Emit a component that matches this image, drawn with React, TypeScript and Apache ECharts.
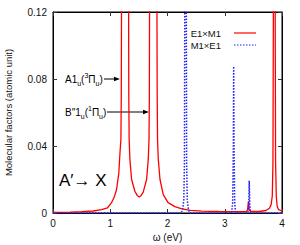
import React, { useEffect, useRef } from 'react';
import * as echarts from 'echarts';

const FONT = '"Liberation Sans", Arial, Helvetica, sans-serif';

// Axis ranges / ticks
const X_MIN = 0;
const X_MAX = 4;
const X_STEP = 1;
const Y_MIN = 0;
const Y_MAX = 0.12;
const Y_STEP = 0.04;

const SERIES_NAMES = ['E1×M1', 'M1×E1'];

// E1×M1 (red, solid): [omega (eV), molecular factor]
const E1M1: [number, number][] = [
  [0, 0.0003], [0.3, 0.0005], [0.5, 0.0008], [0.7, 0.0012], [0.85, 0.002],
  [0.95, 0.003], [1.02, 0.006], [1.07, 0.0095], [1.11, 0.014], [1.15, 0.024],
  [1.17, 0.036], [1.186, 0.044], [1.193, 0.07], [1.197, 0.13], [1.256, 0.9],
  [1.32, 0.13], [1.324, 0.07], [1.33, 0.044], [1.343, 0.032], [1.373, 0.02],
  [1.43, 0.013], [1.47, 0.0105], [1.506, 0.0095], [1.54, 0.0105], [1.576, 0.0125],
  [1.635, 0.02], [1.664, 0.032], [1.677, 0.044], [1.683, 0.07], [1.687, 0.13],
  [1.75, 0.9], [1.815, 0.13], [1.82, 0.07], [1.826, 0.044], [1.839, 0.032],
  [1.869, 0.02], [1.926, 0.011], [2.01, 0.0062], [2.13, 0.0038], [2.25, 0.0025],
  [2.4, 0.0016], [2.6, 0.0011], [2.9, 0.0009], [3.2, 0.0008], [3.38, 0.0009],
  [3.4, 0.002], [3.413, 0.007], [3.426, 0.002], [3.45, 0.0009], [3.6, 0.0009],
  [3.72, 0.0015], [3.78, 0.0028], [3.81, 0.005], [3.83, 0.01], [3.842, 0.03],
  [3.85, 0.13], [3.865, 0.9], [3.88, 0.13], [3.888, 0.03], [3.9, 0.01],
  [3.915, 0.004], [3.94, 0.002], [4.0, 0.0012],
];

// M1×E1 (blue, dotted)
const M1E1: [number, number][] = [
  [0, 0], [2.24, 0], [2.265, 0.002], [2.285, 0.008], [2.296, 0.03],
  [2.302, 0.13], [2.315, 0.9], [2.328, 0.13], [2.334, 0.03], [2.345, 0.008],
  [2.365, 0.002], [2.39, 0], [3.12, 0], [3.138, 0.006], [3.15, 0.04],
  [3.156, 0.0875], [3.162, 0.04], [3.174, 0.006], [3.19, 0], [3.405, 0],
  [3.418, 0.005], [3.428, 0.0192], [3.438, 0.005], [3.45, 0], [4, 0],
];

const RED = '#ff0000';
const BLUE = '#2222ff';

export default function App() {
  const ref = useRef<HTMLDivElement>(null);

  useEffect(() => {
    if (!ref.current) return;
    const chart = echarts.init(ref.current, undefined, { renderer: 'svg', width: 300, height: 245 });

    const tickStyle = { inside: true, length: 4, lineStyle: { color: '#333', width: 1 } };
    const axisLine = { show: true, onZero: false, lineStyle: { color: '#000', width: 1 } };
    const labelStyle = { fontSize: 10, color: '#111', fontFamily: FONT };
    const rich = {
      n: { fontSize: 10, lineHeight: 15, fontFamily: FONT, fill: '#000', color: '#000' },
      sub: { fontSize: 7, verticalAlign: 'bottom', fontFamily: FONT, fill: '#000', color: '#000' },
      sup: { fontSize: 7, verticalAlign: 'top', fontFamily: FONT, fill: '#000', color: '#000' },
    };

    const option: any = {
      animation: false,
      textStyle: { fontFamily: FONT },
      grid: {
        left: 53, right: 18, top: 12, height: 201,
        containLabel: false,
        outerBoundsMode: 'none',
        show: true, borderColor: '#000', borderWidth: 1, backgroundColor: 'transparent',
      },
      legend: {
        orient: 'vertical',
        right: 43,
        top: 28,
        padding: 0,
        align: 'right',
        itemWidth: 22,
        itemHeight: 8,
        itemGap: 2,
        textStyle: { fontSize: 9.5, color: '#111', fontFamily: FONT, lineHeight: 8, padding: [0, 8, 0, 0] },
        data: [
          {
            name: SERIES_NAMES[0],
            lineStyle: { width: 2, color: RED, opacity: 0.6 },
            itemStyle: { opacity: 0, borderWidth: 0 },
          },
          {
            name: SERIES_NAMES[1],
            lineStyle: { width: 1.2 },
            itemStyle: { opacity: 0, borderWidth: 0 },
          },
        ],
      },
      xAxis: [
        {
          type: 'value', min: X_MIN, max: X_MAX, interval: X_STEP, position: 'bottom',
          name: 'ω (eV)', nameLocation: 'middle', nameGap: 19,
          nameTextStyle: { fontSize: 10, color: '#111', fontFamily: FONT },
          axisLine, axisTick: tickStyle,
          axisLabel: { ...labelStyle, margin: 5 },
          splitLine: { show: false },
        },
        {
          type: 'value', min: X_MIN, max: X_MAX, interval: X_STEP, position: 'top',
          axisLine, axisTick: tickStyle, axisLabel: { show: false }, splitLine: { show: false },
        },
      ],
      yAxis: [
        {
          type: 'value', min: Y_MIN, max: Y_MAX, interval: Y_STEP, position: 'left',
          name: 'Molecular factors (atomic unit)', nameLocation: 'middle', nameGap: 40,
          nameTextStyle: { fontSize: 9.5, color: '#111', fontFamily: FONT },
          axisLine, axisTick: tickStyle,
          axisLabel: { ...labelStyle, margin: 6 },
          splitLine: { show: false },
        },
        {
          type: 'value', min: Y_MIN, max: Y_MAX, interval: Y_STEP, position: 'right',
          axisLine, axisTick: tickStyle, axisLabel: { show: false }, splitLine: { show: false },
        },
      ],
      series: [
        {
          name: SERIES_NAMES[0], type: 'line', data: E1M1, xAxisIndex: 0, yAxisIndex: 0,
          symbol: 'none', clip: true, smooth: false,
          lineStyle: { color: RED, width: 1.3 }, itemStyle: { color: RED },
        },
        {
          name: SERIES_NAMES[1], type: 'line', data: M1E1, xAxisIndex: 0, yAxisIndex: 0,
          symbol: 'none', clip: true, smooth: false,
          lineStyle: { color: BLUE, width: 1.5, type: [1.5, 1.5] }, itemStyle: { color: BLUE },
        },
      ],
      graphic: [
        {
          type: 'text', left: 59, top: 172,
          style: { text: 'A′→ X', fontSize: 17, fill: '#000', fontFamily: FONT },
        },
        {
          type: 'text', x: 65, y: 79,
          style: {
            text: '{n|A1}{sub|u}{n|(}{sup|3}{n|Π}{sub|u}{n|)}',
            x: 0, y: 0, verticalAlign: 'middle', textVerticalAlign: 'middle',
            fill: '#000', fontFamily: FONT, rich,
          },
        },
        {
          type: 'text', x: 65, y: 112,
          style: {
            text: '{n|B″1}{sub|u}{n|(}{sup|1}{n|Π}{sub|u}{n|)}',
            x: 0, y: 0, verticalAlign: 'middle', textVerticalAlign: 'middle',
            fill: '#000', fontFamily: FONT, rich,
          },
        },
        {
          type: 'line', shape: { x1: 104, y1: 79, x2: 115, y2: 79 },
          style: { stroke: '#000', lineWidth: 1 },
        },
        {
          type: 'polygon', shape: { points: [[120, 79], [114, 76.8], [114, 81.2]] },
          style: { fill: '#000' },
        },
        {
          type: 'line', shape: { x1: 107, y1: 112, x2: 144, y2: 112 },
          style: { stroke: '#000', lineWidth: 1 },
        },
        {
          type: 'polygon', shape: { points: [[149, 112], [143, 109.8], [143, 114.2]] },
          style: { fill: '#000' },
        },
      ],
    };

    chart.setOption(option);
    return () => chart.dispose();
  }, []);

  return (
    <div
      ref={ref}
      style={{ position: 'fixed', left: 0, top: 0, width: 300, height: 245, background: '#fff' }}
    />
  );
}
